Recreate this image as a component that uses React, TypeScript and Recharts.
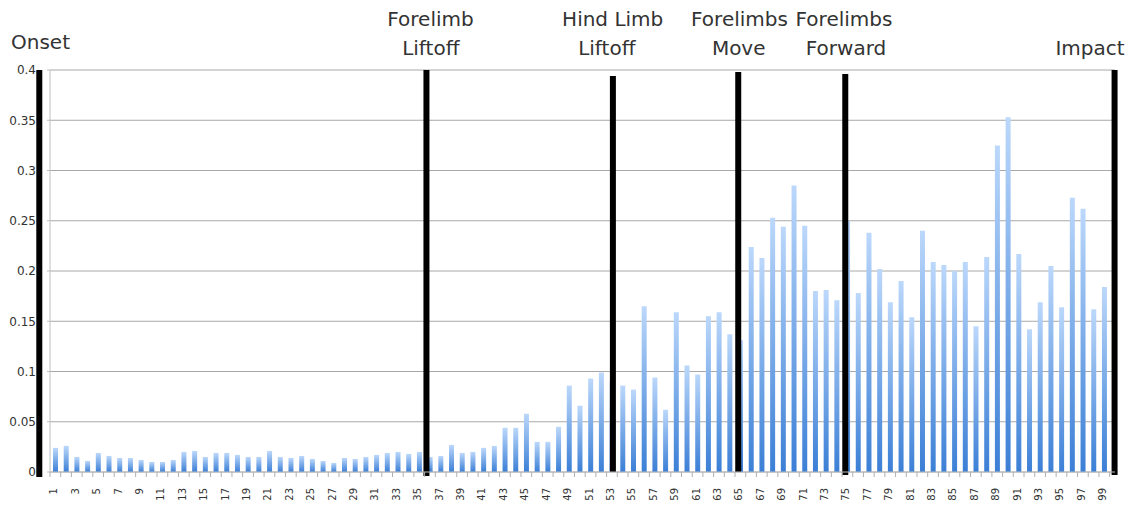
import React from 'react';
import { BarChart, Bar, XAxis, YAxis, CartesianGrid, ReferenceLine } from 'recharts';

const frames = [
  1, 2, 3, 4, 5, 6, 7, 8, 9, 10, 11, 12, 13, 14, 15, 16, 17, 18, 19, 20,
  21, 22, 23, 24, 25, 26, 27, 28, 29, 30, 31, 32, 33, 34, 35, 36, 37, 38, 39, 40,
  41, 42, 43, 44, 45, 46, 47, 48, 49, 50, 51, 52, 53, 54, 55, 56, 57, 58, 59, 60,
  61, 62, 63, 64, 65, 66, 67, 68, 69, 70, 71, 72, 73, 74, 75, 76, 77, 78, 79, 80,
  81, 82, 83, 84, 85, 86, 87, 88, 89, 90, 91, 92, 93, 94, 95, 96, 97, 98, 99,
];

const values = [
  0.024, 0.026, 0.015, 0.011, 0.019, 0.016, 0.014, 0.014, 0.012, 0.010,
  0.010, 0.012, 0.020, 0.021, 0.015, 0.019, 0.019, 0.017, 0.015, 0.015,
  0.021, 0.015, 0.014, 0.016, 0.013, 0.011, 0.009, 0.014, 0.013, 0.015,
  0.017, 0.019, 0.020, 0.018, 0.020, 0.015, 0.016, 0.027, 0.019, 0.020,
  0.024, 0.026, 0.044, 0.044, 0.058, 0.030, 0.030, 0.045, 0.086, 0.066,
  0.093, 0.099, 0.090, 0.086, 0.082, 0.165, 0.094, 0.062, 0.159, 0.106,
  0.097, 0.155, 0.159, 0.137, 0.131, 0.224, 0.213, 0.253, 0.244, 0.285,
  0.245, 0.180, 0.181, 0.171, 0.250, 0.178, 0.238, 0.202, 0.169, 0.190,
  0.154, 0.240, 0.209, 0.206, 0.200, 0.209, 0.145, 0.214, 0.325, 0.353,
  0.217, 0.142, 0.169, 0.205, 0.164, 0.273, 0.262, 0.162, 0.184,
];

const yTicks = [0, 0.05, 0.1, 0.15, 0.2, 0.25, 0.3, 0.35, 0.4];

// event markers: position on frame axis and vertical extent
const eventFrames = [-0.5, 35.67, 53.09, 64.8, 74.8, 99.96];
const eventTops = [0.4, 0.4, 0.394, 0.398, 0.396, 0.4];
const eventBottoms = [-0.005, -0.004, 0, 0, -0.003, -0.003];
const eventLabels = [
  ['Onset'],
  ['Forelimb', 'Liftoff'],
  ['Hind Limb', 'Liftoff'],
  ['Forelimbs', 'Move'],
  ['Forelimbs', 'Forward'],
  ['Impact'],
];

const data = frames.map((f, i) => ({ frame: f, value: values[i] }));

const W = 1139;
const H = 506;
const MARGIN = { top: 70, right: 24, bottom: 0, left: 0 };
const Y_WIDTH = 50;
const X_DOMAIN: [number, number] = [0.5, 100];
const PLOT_W = W - MARGIN.left - MARGIN.right - Y_WIDTH;
const HALF_BAND = PLOT_W / (X_DOMAIN[1] - X_DOMAIN[0]) / 2;

function FrameTick(props: any) {
  const { x, y, payload } = props;
  const v = payload.value as number;
  return (
    <g>
      <line x1={x + HALF_BAND} x2={x + HALF_BAND} y1={y} y2={y + 5} stroke="#b0b0b0" />
      {v === 1 && <line x1={x - HALF_BAND} x2={x - HALF_BAND} y1={y} y2={y + 5} stroke="#b0b0b0" />}
      {v % 2 === 1 && (
        <text
          transform={`translate(${x - 1.5},${y + 16}) rotate(-90)`}
          textAnchor="end"
          dy="0.35em"
          fontSize={10}
          fill="#333"
          fontFamily="DejaVu Sans"
        >
          {v}
        </text>
      )}
    </g>
  );
}

// title placements (center x / baseline y per line)
const titlePos = [
  [{ x: 11, y: 49, anchor: 'start' }],
  [{ x: 430.5, y: 26, anchor: 'middle' }, { x: 430.8, y: 55, anchor: 'middle' }],
  [{ x: 612.7, y: 26, anchor: 'middle' }, { x: 606.8, y: 55, anchor: 'middle' }],
  [{ x: 739.5, y: 26, anchor: 'middle' }, { x: 738.7, y: 55, anchor: 'middle' }],
  [{ x: 844, y: 26, anchor: 'middle' }, { x: 846, y: 55, anchor: 'middle' }],
  [{ x: 1090, y: 55, anchor: 'middle' }],
];

export default function App() {
  return (
    <div style={{ position: 'absolute', left: 0, top: 0, width: W, height: H, background: '#fff' }}>
      <BarChart width={W} height={H} data={data} margin={MARGIN}>
        <defs>
          <linearGradient id="barGrad" x1="0" y1="0" x2="0" y2="1">
            <stop offset="0" stopColor="#bcd8fb" />
            <stop offset="1" stopColor="#3b7fd6" />
          </linearGradient>
        </defs>
        <CartesianGrid vertical={false} stroke="#a8a8a8" />
        <XAxis
          type="number"
          dataKey="frame"
          domain={X_DOMAIN}
          ticks={frames}
          interval={0}
          allowDataOverflow
          tickLine={false}
          tickSize={0}
          tickMargin={0}
          height={34}
          axisLine={{ stroke: '#bfbfbf' }}
          tick={<FrameTick />}
        />
        <YAxis
          type="number"
          domain={[0, 0.4]}
          ticks={yTicks}
          interval={0}
          width={Y_WIDTH}
          tickSize={3}
          tickMargin={11}
          axisLine={{ stroke: '#bfbfbf' }}
          tickLine={{ stroke: '#bfbfbf' }}
          tick={{ fill: '#333', fontSize: 12, fontFamily: 'DejaVu Sans' }}
        />
        <Bar dataKey="value" fill="url(#barGrad)" barSize={5} isAnimationActive={false} />
        {eventFrames.map((f, i) => (
          <ReferenceLine
            key={i}
            segment={[{ x: f, y: eventBottoms[i] }, { x: f, y: eventTops[i] }]}
            stroke="#000"
            strokeWidth={6}
            ifOverflow="visible"
          />
        ))}
      </BarChart>
      <svg width={W} height={H} style={{ position: 'absolute', left: 0, top: 0, pointerEvents: 'none' }}>
        {eventLabels.map((lines, i) =>
          lines.map((t, j) => (
            <text
              key={`${i}-${j}`}
              x={titlePos[i][j].x}
              y={titlePos[i][j].y}
              textAnchor={titlePos[i][j].anchor as any}
              fontSize={20}
              fontFamily="DejaVu Sans"
              fill="#333"
            >
              {t}
            </text>
          ))
        )}
      </svg>
    </div>
  );
}
